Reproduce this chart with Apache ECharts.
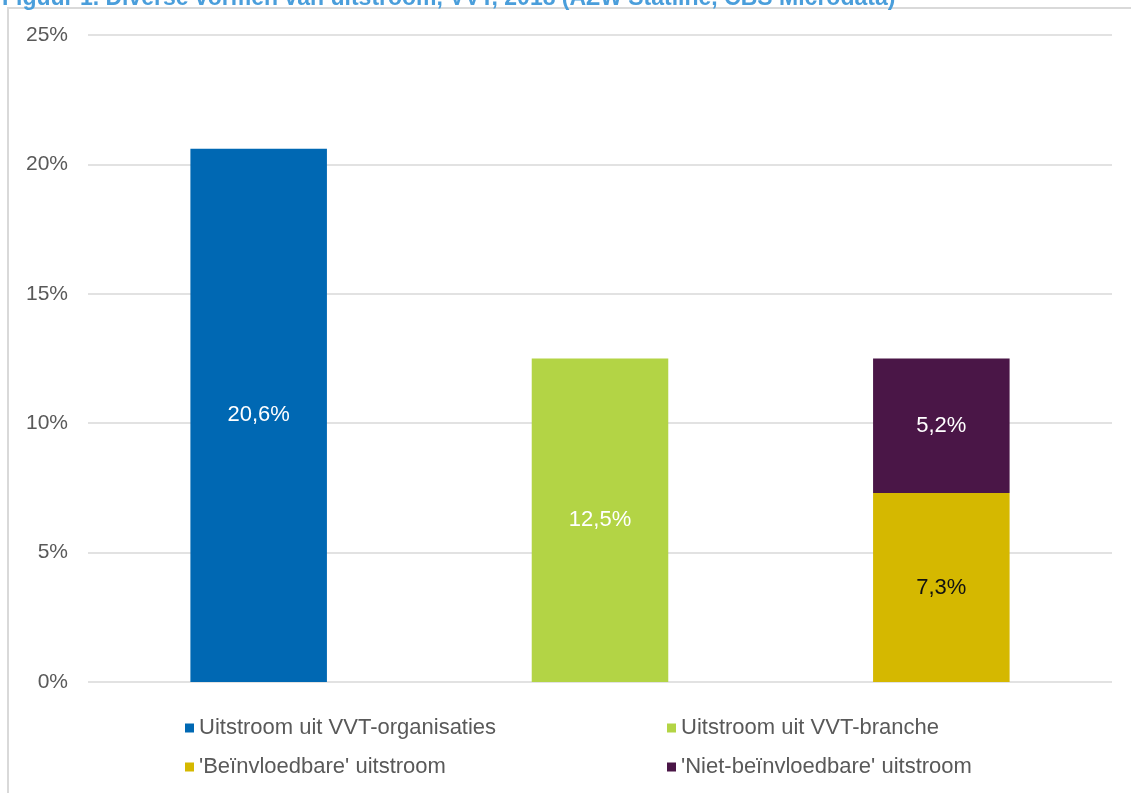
<!DOCTYPE html>
<html>
<head>
<meta charset="utf-8">
<script src="https://cdn.jsdelivr.net/npm/echarts@6/dist/echarts.min.js"></script>
<style>
  html, body { margin: 0; padding: 0; background: #fff; }
  #chart { width: 1131px; height: 793px; }
</style>
</head>
<body>
<div id="chart"></div>
<script>
// waarden uit de figuur (procenten)
var categories = ['organisaties', 'branche', 'opgesplitst'];
var organisaties = [20.6, '-', '-'];
var branche = ['-', 12.5, '-'];
var beinvloedbaar = ['-', '-', 7.3];
var nietBeinvloedbaar = ['-', '-', 5.2];
var yTicks = [0, 5, 10, 15, 20, 25];

var font = '"Liberation Sans", Arial, sans-serif';

function pct(p) {
    return p.value.toFixed(1).replace('.', ',') + '%';
}

function bar(name, data, color, labelColor) {
    return {
        name: name,
        type: 'bar',
        stack: 'totaal',
        barWidth: '40%',
        data: data,
        itemStyle: { color: color },
        label: {
            show: true,
            position: 'inside',
            color: labelColor,
            fontFamily: font,
            fontSize: 22,
            formatter: pct
        }
    };
}

function legendItem(name, left, top) {
    return {
        data: [name],
        left: left,
        top: top,
        padding: 0,
        itemWidth: 9,
        itemHeight: 9,
        itemGap: 5,
        icon: 'rect',
        selectedMode: false,
        textStyle: { color: '#595959', fontFamily: font, fontSize: 22 }
    };
}

var chart = echarts.init(document.getElementById('chart'));
chart.setOption({
    animation: false,
    backgroundColor: '#fff',
    graphic: [
        {
            type: 'rect',
            shape: { x: 8, y: 8, width: 1300, height: 1000 },
            style: { fill: 'none', stroke: '#d9d9d9', lineWidth: 2 },
            z: 0
        },
        {
            type: 'text',
            x: 2,
            y: -13,
            style: {
                text: 'Figuur 1. Diverse vormen van uitstroom, VVT, 2018 (AZW Statline, CBS Microdata)',
                font: 'bold 23px ' + font,
                fill: '#4a9edb',
                verticalAlign: 'top'
            }
        }
    ],
    grid: { left: 88, right: 19, top: 35, bottom: 111 },
    xAxis: {
        type: 'category',
        data: categories,
        axisLine: { show: false },
        axisTick: { show: false },
        axisLabel: { show: false }
    },
    yAxis: {
        type: 'value',
        min: yTicks[0],
        max: yTicks[yTicks.length - 1],
        interval: 5,
        axisLine: { show: false },
        axisTick: { show: false },
        splitLine: { lineStyle: { color: '#d9d9d9', width: 1.5 } },
        axisLabel: {
            margin: 20,
            color: '#595959',
            fontFamily: font,
            fontSize: 21,
            formatter: '{value}%'
        }
    },
    legend: [
        legendItem('Uitstroom uit VVT-organisaties', 185, 717),
        legendItem('Uitstroom uit VVT-branche', 667, 717),
        legendItem("'Beïnvloedbare' uitstroom", 185, 756),
        legendItem("'Niet-beïnvloedbare' uitstroom", 667, 756)
    ],
    series: [
        bar('Uitstroom uit VVT-organisaties', organisaties, '#0068b3', '#fff'),
        bar('Uitstroom uit VVT-branche', branche, '#b3d445', '#fff'),
        bar("'Beïnvloedbare' uitstroom", beinvloedbaar, '#d5b800', '#111'),
        bar("'Niet-beïnvloedbare' uitstroom", nietBeinvloedbaar, '#4a1647', '#fff')
    ]
});
</script>
</body>
</html>
